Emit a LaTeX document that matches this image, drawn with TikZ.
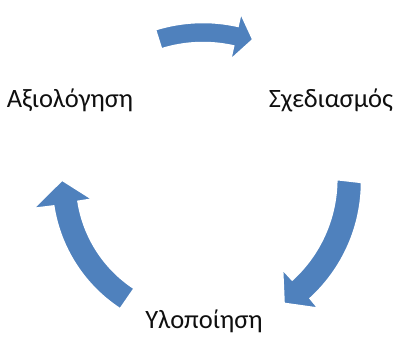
\documentclass[tikz,border=0pt]{standalone}
\usepackage{fontspec}
\setmainfont{Carlito}
\begin{document}
\begin{tikzpicture}[x=1pt,y=1pt,
  blockarrow/.style={fill={rgb,255:red,79;green,129;blue,189}, draw=white, line width=2.5pt, line join=miter},
  label/.style={anchor=base, font=\fontsize{26.5}{31}\selectfont, text={rgb,255:red,15;green,15;blue,15}, inner sep=0pt}]
\useasboundingbox (0,0) rectangle (406,338);
\fill[white] (0,0) rectangle (406,338);
\coordinate (C) at (203,156);
% labels
\node[label] (eval) at (70,231) {Αξιολόγηση};
\node[label] (plan) at (331,231) {Σχεδιασμός};
\node[label] (impl) at (204,10) {Υλοποίηση};
% top arrow: evaluation -> planning
\path[blockarrow] ([shift={(107.5:160)}]C) arc[start angle=107.5,end angle=77.5,radius=160]
  -- ([shift={(77.5:174)}]C) -- ([shift={(70.5:151)}]C) -- ([shift={(77.5:124)}]C)
  -- ([shift={(77.5:139)}]C) arc[start angle=77.5,end angle=107.5,radius=139] -- cycle;
% right arrow: planning -> implementation
\path[blockarrow] ([shift={(0:159)}]C) arc[start angle=0,end angle=-47.5,radius=158]
  -- ([shift={(-47.5:172)}]C) -- ([shift={(-56.5:146)}]C) -- ([shift={(-47.5:117)}]C)
  -- ([shift={(-47.5:132)}]C) arc[start angle=-47.5,end angle=0,radius=136] -- cycle;
% left arrow: implementation -> evaluation
\path[blockarrow] ([shift={(237:152)}]C) arc[start angle=237,end angle=189,radius=151]
  -- ([shift={(189:173)}]C) -- ([shift={(179:141)}]C) -- ([shift={(189:111)}]C)
  -- ([shift={(189:126)}]C) arc[start angle=189,end angle=237,radius=127] -- cycle;
\end{tikzpicture}
\end{document}
